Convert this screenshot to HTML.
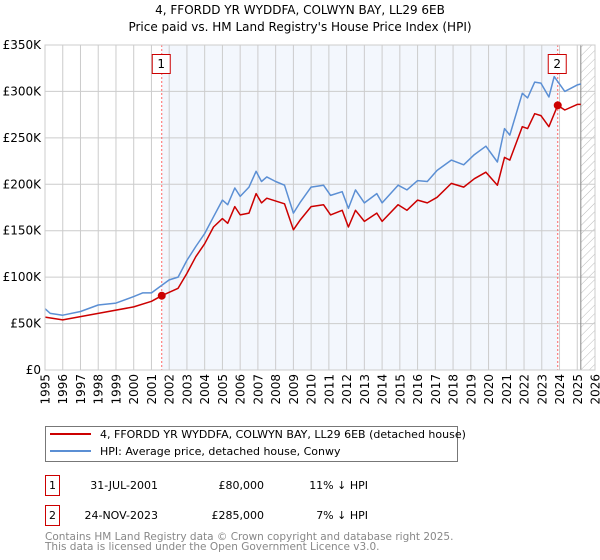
<!DOCTYPE html>
<html><head><meta charset="utf-8"><style>
body{margin:0;background:#fff;font-family:"DejaVu Sans","Liberation Sans",sans-serif;}
svg{display:block}
text{font-family:"DejaVu Sans","Liberation Sans",sans-serif;}
</style></head><body>
<svg id="chart" width="600" height="560" viewBox="0 0 600 560">
<defs><pattern id="hatch" width="6" height="6" patternUnits="userSpaceOnUse" patternTransform="rotate(45)"><line x1="0" y1="0" x2="0" y2="6" stroke="#bbb" stroke-width="1"/></pattern></defs>
<text x="300" y="14" text-anchor="middle" font-size="12" fill="#000">4, FFORDD YR WYDDFA, COLWYN BAY, LL29 6EB</text>
<text x="300" y="31" text-anchor="middle" font-size="12" fill="#000">Price paid vs. HM Land Registry's House Price Index (HPI)</text>
<g id="plot"></g>
<g>
<rect x="45.5" y="426.5" width="412" height="35" fill="#fff" stroke="#777"/>
<line x1="50" y1="434" x2="91" y2="434" stroke="#cc0000" stroke-width="2"/>
<text x="100" y="438" font-size="11">4, FFORDD YR WYDDFA, COLWYN BAY, LL29 6EB (detached house)</text>
<line x1="50" y1="451" x2="91" y2="451" stroke="#5b8fd4" stroke-width="2"/>
<text x="100" y="455" font-size="11">HPI: Average price, detached house, Conwy</text>
</g>
<g font-size="11">
<rect x="45.5" y="475.5" width="14" height="20" fill="#fff" stroke="#cc0000"/>
<text x="52.5" y="489" text-anchor="middle">1</text>
<text x="158" y="489" text-anchor="end">31-JUL-2001</text>
<text x="264" y="489" text-anchor="end">£80,000</text>
<text x="368" y="489" text-anchor="end">11% ↓ HPI</text>
<rect x="45.5" y="505.5" width="14" height="20" fill="#fff" stroke="#cc0000"/>
<text x="52.5" y="519" text-anchor="middle">2</text>
<text x="158" y="519" text-anchor="end">24-NOV-2023</text>
<text x="264" y="519" text-anchor="end">£285,000</text>
<text x="368" y="519" text-anchor="end">7% ↓ HPI</text>
</g>
<text x="45" y="540" font-size="10.5" fill="#888">Contains HM Land Registry data © Crown copyright and database right 2025.</text>
<text x="45" y="550" font-size="10.5" fill="#888">This data is licensed under the Open Government Licence v3.0.</text>
</svg>
<script>
const yTicks=[0,50,100,150,200,250,300,350];
const yTickLabels=["£0","£50K","£100K","£150K","£200K","£250K","£300K","£350K"];
const years=[1995,1996,1997,1998,1999,2000,2001,2002,2003,2004,2005,2006,2007,2008,2009,2010,2011,2012,2013,2014,2015,2016,2017,2018,2019,2020,2021,2022,2023,2024,2025,2026];
const hpiDates=[1995.0,1995.3,1996,1997,1998,1999,2000,2000.5,2001,2001.5,2002,2002.5,2003,2003.5,2004,2004.5,2005,2005.3,2005.7,2006,2006.5,2006.9,2007.2,2007.5,2008,2008.5,2009,2009.4,2010,2010.7,2011.1,2011.75,2012.1,2012.5,2013,2013.7,2014,2014.9,2015.4,2016,2016.55,2017.1,2017.9,2018.6,2019.2,2019.85,2020.5,2020.9,2021.2,2021.9,2022.2,2022.6,2022.95,2023.4,2023.7,2024.3,2025.0,2025.2];
const hpiValues=[66,61,59,63,70,72,79,83,83,90,97,100,118,133,147,165,183,178,196,187,197,214,203,208,203,199,169,181,197,199,188,192,174,194,180,190,180,199,194,204,203,215,226,221,232,241,224,260,253,298,293,310,309,294,316,300,307,308];
const priceDates=[1995.0,1996,1998,2000,2001,2001.58,2002.5,2003,2003.5,2004,2004.5,2005,2005.3,2005.7,2006,2006.5,2006.9,2007.2,2007.5,2008.5,2009,2009.4,2010,2010.7,2011.1,2011.75,2012.1,2012.5,2013,2013.7,2014,2014.9,2015.4,2016,2016.55,2017.1,2017.9,2018.6,2019.2,2019.85,2020.5,2020.9,2021.2,2021.9,2022.2,2022.6,2022.95,2023.4,2023.9,2024.3,2025.0,2025.2];
const priceValues=[57,54,61,68,74,80,88,104,122,136,154,163,158,176,167,169,190,180,185,179,151,162,176,178,167,172,154,172,160,169,160,178,172,183,180,186,201,197,206,213,199,229,226,262,260,276,274,262,285,280,286,286];
const saleDates=[2001.58,2023.9];
const saleValues=[80,285];
const saleLabels=["1","2"];

const X0=45,X1=595,Y0=370,Y1=45;
const xs=t=>X0+(t-1995)/(2026-1995)*(X1-X0);
const ys=v=>Y0-v/350*(Y0-Y1);
const NS="http://www.w3.org/2000/svg";
const g=document.getElementById('plot');
function mk(tag,attrs,parent){const e=document.createElementNS(NS,tag);for(const k in attrs)e.setAttribute(k,attrs[k]);(parent||g).appendChild(e);return e;}

const shade=mk('rect',{x:xs(saleDates[0]),y:Y1,width:xs(saleDates[1])-xs(saleDates[0]),height:Y0-Y1,fill:'#eef3fc',opacity:0.7});


const hatch=mk('rect',{x:xs(2025.2),y:Y1,width:X1-xs(2025.2),height:Y0-Y1,fill:'url(#hatch)'});



yTicks.forEach((v,i)=>{
  const l=mk('line',{x1:X0,x2:X1,y1:ys(v),y2:ys(v),stroke:'#cccccc','stroke-width':1});
  
  
  const t=mk('text',{x:X0-4,y:ys(v)+4,'text-anchor':'end','font-size':12,fill:'#000'});
  t.textContent=yTickLabels[i];
  
  
});
years.forEach(yr=>{
  const l=mk('line',{x1:xs(yr),x2:xs(yr),y1:Y1,y2:Y0,stroke:'#cccccc','stroke-width':1});
  
  
  const t=mk('text',{x:0,y:0,'text-anchor':'end','font-size':12,fill:'#000',transform:`translate(${xs(yr)+4.5},374) rotate(-90)`});
  t.textContent=yr;
  
  
});
const vl=mk('line',{x1:xs(2025.2),x2:xs(2025.2),y1:Y1,y2:Y0,stroke:'#888','stroke-width':1});



saleDates.forEach((d,i)=>{
  const l=mk('line',{x1:xs(d),x2:xs(d),y1:Y1,y2:Y0,stroke:'#ff6666','stroke-width':1,'stroke-dasharray':'2,2'});
  
  
});

function path(ds,vs){return ds.map((d,i)=>(i?'L':'M')+xs(d).toFixed(1)+','+ys(vs[i]).toFixed(1)).join('');}
const hp=mk('path',{d:path(hpiDates,hpiValues),fill:'none',stroke:'#5b8fd4','stroke-width':1.5,'stroke-linejoin':'round'});


const pp=mk('path',{d:path(priceDates,priceValues),fill:'none',stroke:'#cc0000','stroke-width':1.5,'stroke-linejoin':'round'});



saleDates.forEach((d,i)=>{
  const c=mk('circle',{cx:xs(d),cy:ys(saleValues[i]),r:4,fill:'#cc0000'});
  
  
  const r=mk('rect',{x:xs(d)-9.5,y:54.5,width:18,height:19,fill:'#fff',stroke:'#cc0000'});
  
  
  const t=mk('text',{x:xs(d)-0.5,y:68,'text-anchor':'middle','font-size':12});
  t.textContent=saleLabels[i];
  
  
});
const ax=mk('rect',{x:X0,y:Y1,width:X1-X0,height:Y0-Y1,fill:'none',stroke:'#cccccc'});


</script>
</body></html>
